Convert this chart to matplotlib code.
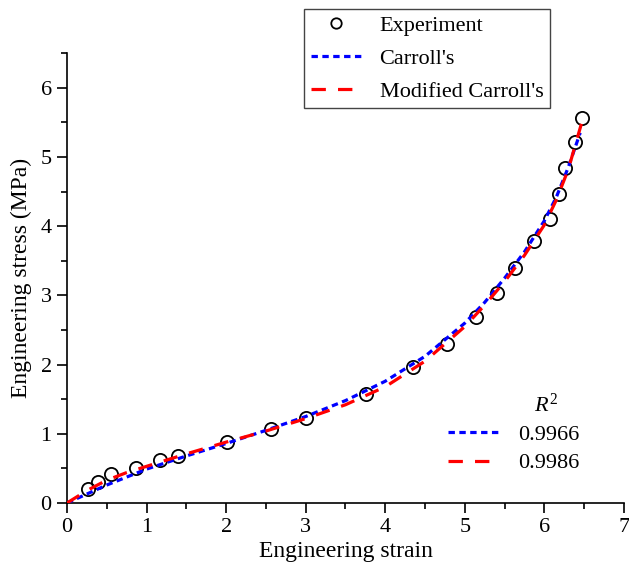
import matplotlib
matplotlib.use("Agg")
import matplotlib.pyplot as plt
from matplotlib.ticker import MultipleLocator
from matplotlib.lines import Line2D

plt.rcParams['font.family'] = ['Liberation Serif', 'DejaVu Serif']
plt.rcParams['mathtext.fontset'] = 'custom'
plt.rcParams['mathtext.rm'] = 'Liberation Serif'
plt.rcParams['mathtext.it'] = 'Liberation Serif:italic'

# Experimental data
exp_strain = [0.26, 0.39, 0.55, 0.87, 1.17, 1.39, 2.01, 2.56, 3.00, 3.76, 4.35, 4.77,
              5.14, 5.40, 5.63, 5.87, 6.07, 6.18, 6.26, 6.39, 6.47]
exp_stress = [0.20, 0.31, 0.42, 0.51, 0.62, 0.68, 0.88, 1.07, 1.23, 1.58, 1.97, 2.30,
              2.69, 3.03, 3.40, 3.79, 4.10, 4.47, 4.84, 5.22, 5.57]

# Carroll's model
car_strain = [0, 0.25, 0.5, 1.0, 1.5, 2.0, 2.5, 3.0, 3.5, 4.0, 4.5, 5.0, 5.25, 5.5,
              5.75, 6.0, 6.15, 6.3, 6.45]
car_stress = [0, 0.13, 0.26, 0.49, 0.68, 0.86, 1.05, 1.25, 1.48, 1.76, 2.12, 2.60,
              2.90, 3.25, 3.63, 4.08, 4.42, 4.85, 5.35]

# Modified Carroll's model
mod_strain = [0, 0.25, 0.5, 0.75, 1.0, 1.5, 2.0, 2.5, 3.0, 3.5, 4.0, 4.5, 5.0, 5.25,
              5.5, 5.75, 6.0, 6.15, 6.3, 6.5]
mod_stress = [0, 0.18, 0.33, 0.44, 0.53, 0.71, 0.88, 1.04, 1.22, 1.42, 1.68, 2.05, 2.55,
              2.86, 3.20, 3.58, 4.02, 4.38, 4.82, 5.62]

legend_labels = ["Experiment", "Carroll's", "Modified Carroll's"]
r2_values = ["0.9966", "0.9986"]

W, H = 629, 572
fig = plt.figure(figsize=(W / 100, H / 100), dpi=100)
ax = fig.add_axes([0.1065, 0.1206, 0.8855, 0.7864])

blue_ls = (0, (2.0, 1.4))
red_ls = (0, (4.5, 3.8))
LW = 2.3

ax.plot(exp_strain, exp_stress, linestyle='none', marker='o', markersize=9.5,
        markerfacecolor='none', markeredgecolor='black', markeredgewidth=1.3, zorder=2)
ax.plot(car_strain, car_stress, color='#0000ff', linewidth=LW, linestyle=blue_ls, zorder=3)
ax.plot(mod_strain, mod_stress, color='#ff0000', linewidth=LW, linestyle=red_ls, zorder=3)

ax.set_xlim(0, 7)
ax.set_ylim(0, 6.5)
ax.xaxis.set_major_locator(MultipleLocator(1))
ax.xaxis.set_minor_locator(MultipleLocator(0.5))
ax.yaxis.set_major_locator(MultipleLocator(1))
ax.yaxis.set_minor_locator(MultipleLocator(0.5))
ax.spines['top'].set_visible(False)
ax.spines['right'].set_visible(False)
for s in ('left', 'bottom'):
    ax.spines[s].set_linewidth(1.2)
ax.tick_params(which='major', direction='out', length=7, width=1.2, labelsize=16, pad=4)
ax.tick_params(which='minor', direction='out', length=4, width=1.2)
ax.set_xlabel("Engineering strain", fontsize=17, labelpad=3)
ax.set_ylabel("Engineering stress (MPa)", fontsize=17, labelpad=6)

h0 = Line2D([], [], linestyle='none', marker='o', markersize=7.5, markerfacecolor='none',
            markeredgecolor='black', markeredgewidth=1.3)
h1 = Line2D([], [], color='#0000ff', linewidth=LW, linestyle=blue_ls)
h2 = Line2D([], [], color='#ff0000', linewidth=LW, linestyle=red_ls)

leg1 = fig.legend([h0, h1, h2], legend_labels,
                  loc='upper left', bbox_to_anchor=(304 / W, 1 - 9 / H), fontsize=16,
                  frameon=True, fancybox=False, edgecolor='#444444', framealpha=1,
                  handlelength=2.25, handletextpad=0.85, borderpad=0.3, labelspacing=0.55,
                  borderaxespad=0)
leg1.get_frame().set_linewidth(1.0)

leg2 = fig.legend([h1, h2], r2_values, loc='center left',
                  bbox_to_anchor=(448 / W, 1 - 449 / H), frameon=False, fontsize=16,
                  handlelength=2.25, handletextpad=0.9, labelspacing=0.35,
                  borderpad=0, borderaxespad=0)
fig.text(546 / W, 1 - 405 / H, r"$R^2$", fontsize=16, ha='center', va='center')

fig.savefig("out.png", dpi=100)
